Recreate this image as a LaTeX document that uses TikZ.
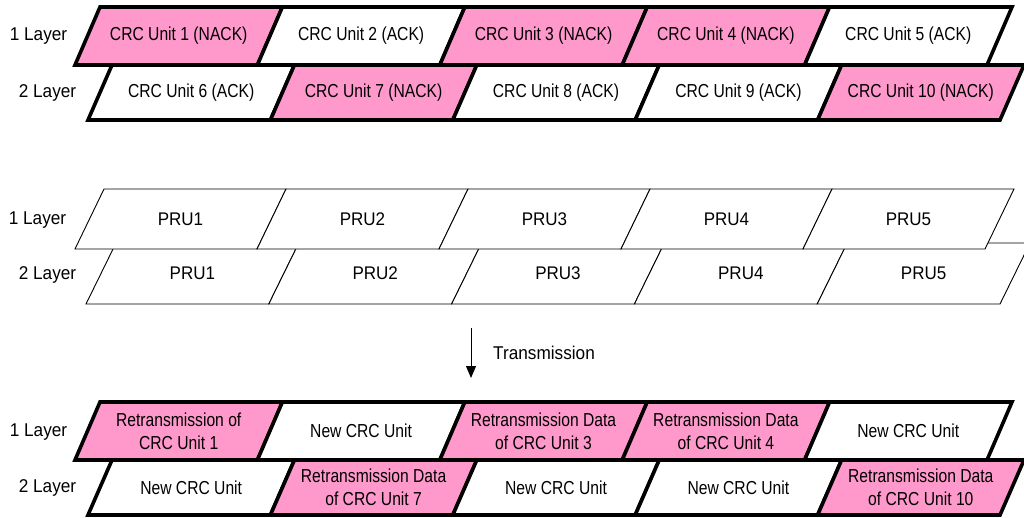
\documentclass[tikz,border=0pt]{standalone}
\usepackage{fontspec}
\setmainfont{Liberation Sans}
\newfontfamily\cellfont[FakeStretch=0.833]{Liberation Sans}
\newfontfamily\labelfont[FakeStretch=0.93]{Liberation Sans}
\usetikzlibrary{arrows.meta}
\definecolor{nackpink}{RGB}{255,153,204}
% #1 cell style, #2 text style, #3 xTop, #4 xBottom, #5 yTop, #6 yBottom, #7 width, #8 name prefix, #9 list fill/text
\newcommand\cellrow[9]{%
  \foreach \f/\t [count=\i from 0] in {#9} {
    \path[#1,fill=\f] ({#3+\i*#7},#5) -- ({#3+(\i+1)*#7},#5) -- ({#4+(\i+1)*#7},#6) -- ({#4+\i*#7},#6) -- cycle;
    \node[#2] (#8\i) at ({(#3+#4)/2+(\i+0.5)*#7},{(#5+#6)/2}) {\t};
  }}
\begin{document}
\begin{tikzpicture}[x=1pt,y=-1pt,
  thickcell/.style={draw=black,line width=3.6pt,line join=miter},
  thincell/.style={draw=black,line width=0.9pt},
  celltext/.style={font=\cellfont\fontsize{18.8}{23}\selectfont,align=center,inner sep=0pt},
  prutext/.style={font=\labelfont\fontsize{18.3}{22}\selectfont,inner sep=0pt},
  layerlabel/.style={font=\labelfont\fontsize{18.5}{22}\selectfont,inner sep=0pt},
]
\useasboundingbox (0,0) rectangle (1024,517);

% ---- CRC units (top) ----
\cellrow{thickcell}{celltext}{112}{88}{65}{120}{182.4}{ctwo}{white/CRC Unit 6 (ACK), nackpink/CRC Unit 7 (NACK), white/CRC Unit 8 (ACK), white/CRC Unit 9 (ACK), nackpink/CRC Unit 10 (NACK)}
\cellrow{thickcell}{celltext}{100}{75}{7}{65}{182.4}{cone}{nackpink/CRC Unit 1 (NACK), white/CRC Unit 2 (ACK), nackpink/CRC Unit 3 (NACK), nackpink/CRC Unit 4 (NACK), white/CRC Unit 5 (ACK)}
\node[layerlabel] (la1) at (38.5,36) {1 Layer};
\node[layerlabel] (la2) at (47.5,93) {2 Layer};

% ---- PRUs (middle) ----
\cellrow{thincell}{prutext}{116}{86}{243}{304}{182.8}{ptwo}{white/PRU1, white/PRU2, white/PRU3, white/PRU4, white/PRU5}
\cellrow{thincell}{prutext}{104}{75}{189}{249}{182}{pone}{white/PRU1, white/PRU2, white/PRU3, white/PRU4, white/PRU5}
\node[layerlabel] (lb1) at (37.5,220) {1 Layer};
\node[layerlabel] (lb2) at (47.5,275) {2 Layer};

% ---- Transmission arrow ----
\coordinate (arrS) at (471,328);
\coordinate (arrE) at (471,378);
\draw[line width=0.9pt,-{Triangle[width=10pt,length=12pt]}] (arrS) -- (arrE);
\node[layerlabel,anchor=west] (trans) at (493,353) {Transmission};

% ---- Retransmission (bottom) ----
\cellrow{thickcell}{celltext}{112}{88}{460}{515}{182.4}{rtwo}{white/New CRC Unit, nackpink/{Retransmission Data\\of CRC Unit 7}, white/New CRC Unit, white/New CRC Unit, nackpink/{Retransmission Data\\of CRC Unit 10}}
\cellrow{thickcell}{celltext}{100}{75}{402}{460}{182.4}{rone}{nackpink/{Retransmission of\\CRC Unit 1}, white/New CRC Unit, nackpink/{Retransmission Data\\of CRC Unit 3}, nackpink/{Retransmission Data\\of CRC Unit 4}, white/New CRC Unit}
\node[layerlabel] (lc1) at (38.5,432) {1 Layer};
\node[layerlabel] (lc2) at (47.5,488) {2 Layer};
\end{tikzpicture}
\end{document}
